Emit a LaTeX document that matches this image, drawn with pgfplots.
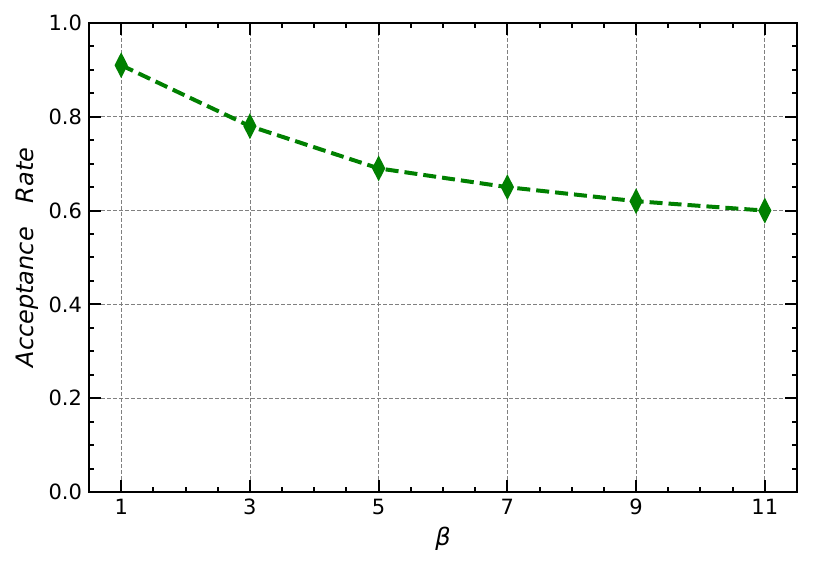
\documentclass[border=0pt]{standalone}
\usepackage{fontspec}
\setmainfont{DejaVu Sans}
\usepackage{pgfplots}
\pgfplotsset{compat=1.18}
\usetikzlibrary{calc}
\definecolor{mplgreen}{RGB}{0,128,0}
\begin{document}
\begin{tikzpicture}
\begin{axis}[
    scale only axis,
    width=354pt, height=234.5pt,
    xmin=0.5, xmax=11.5,
    ymin=0, ymax=1,
    xtick={1,3,5,7,9,11},
    ytick={0,0.2,0.4,0.6,0.8,1.0},
    minor x tick num=3,
    minor y tick num=3,
    tick align=inside,
    xtick pos=both, ytick pos=both,
    major tick length=6pt,
    minor tick length=2.5pt,
    every tick/.style={black, line width=1pt},
    axis line style={line width=1.1pt},
    grid=major,
    major grid style={gray, dash pattern=on 2pt off 1pt, line width=0.4pt},
    /pgf/number format/assume math mode=true,
    yticklabel style={/pgf/number format/fixed, /pgf/number format/fixed zerofill, /pgf/number format/precision=1},
    tick label style={font=\fontsize{10.5}{12}\selectfont},
    xlabel={\itshape β},
    ylabel={\itshape Acceptance\hspace{1em}Rate},
    label style={font=\fontsize{12}{14}\selectfont},
    xlabel style={yshift=1pt},
    ylabel style={yshift=-2pt},
]
\addplot[color=mplgreen, line width=2pt, dash pattern=on 6.5pt off 3pt,
    mark=diamond*, mark size=4.3pt, mark options={solid, fill=mplgreen, xscale=0.68}]
coordinates {(1,0.91) (3,0.78) (5,0.69) (7,0.65) (9,0.62) (11,0.60)};
\end{axis}
\pgfresetboundingbox
\path ($(current axis.south west)+(-44.5pt,-39.5pt)$) rectangle ($(current axis.north east)+(8pt,11.5pt)$);
\end{tikzpicture}
\end{document}
